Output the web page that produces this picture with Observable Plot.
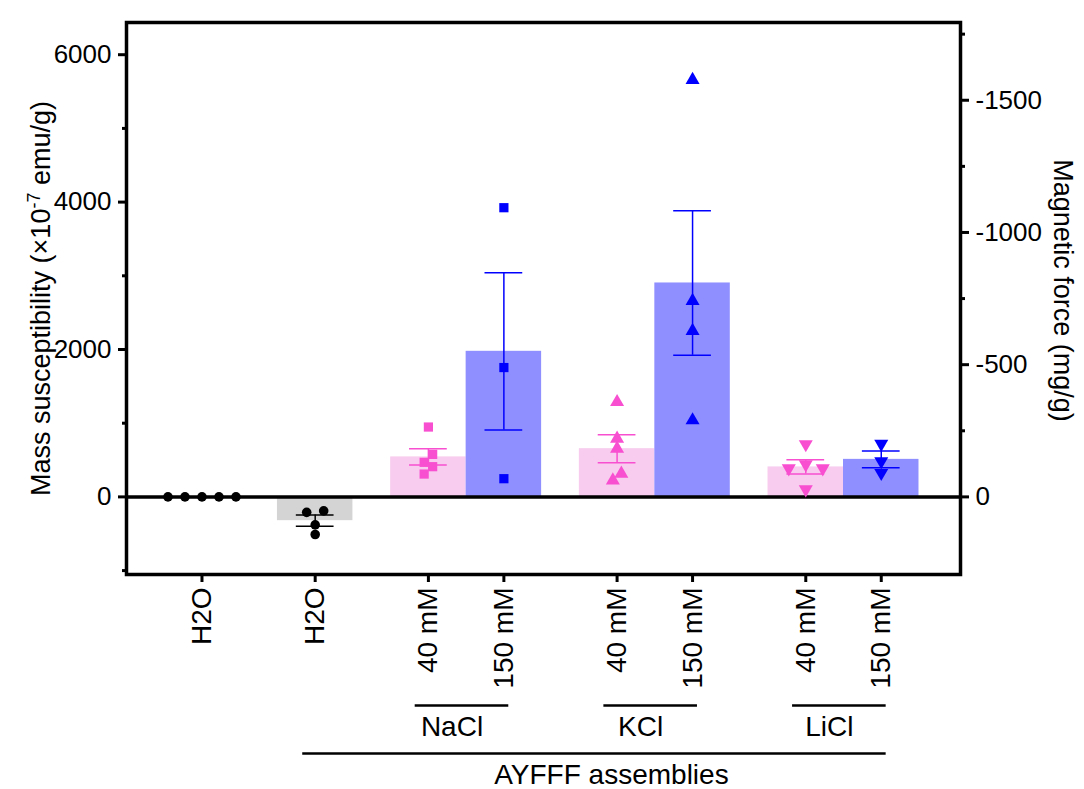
<!DOCTYPE html>
<html>
<head>
<meta charset="utf-8">
<script src="https://cdn.jsdelivr.net/npm/d3@7"></script>
<script src="https://cdn.jsdelivr.net/npm/@observablehq/plot@0.6"></script>
<style>
  body { margin: 0; background: #fff; }
  #chart svg { font-family: "Liberation Sans", Arial, sans-serif; display: block; }
  #chart svg g[aria-label="y-axis tick"], #chart svg g[aria-label="x-axis tick"] { stroke-width: 3px; }
  #chart svg g[aria-label="frame"] rect, #chart svg [aria-label="frame"] { stroke-width: 3.5px; }
</style>
</head>
<body>
<div id="chart"></div>
<script>
// ---------------- data ----------------
const categories = ["H2O", "H2O", "40 mM", "150 mM", "40 mM", "150 mM", "40 mM", "150 mM"];
const groupKeys  = ["control", "AYFFF", "NaCl", "NaCl", "KCl", "KCl", "LiCl", "LiCl"];
const saltNames  = ["NaCl", "KCl", "LiCl"];
const assemblyLabel = "AYFFF assemblies";

// mass susceptibility (x10^-7 emu/g), individual replicates
const waterControl = [0, 0, 0, 0, 0];
const waterAYFFF   = [-210, -190, -380, -510];
const nacl40       = [948, 577, 469, 410, 310];
const nacl150      = [3924, 1755, 247];
const kcl40        = [1288, 790, 655, 315, 224];
const kcl150       = [5659, 2660, 2253, 1039];
const licl40       = [714, 442, 388, 388, 102];
const licl150      = [719, 484, 325];
const seriesValues = [waterControl, waterAYFFF, nacl40, nacl150, kcl40, kcl150, licl40, licl150];

const leftTicks       = [0, 2000, 4000, 6000];
const leftMinorTicks  = [-1000, 1000, 3000, 5000];
const rightTicks      = [0, -500, -1000, -1500];
const rightMinorTicks = [-250, -750, -1250, -1750];
const susceptibilityPerForce = 3.588; // left-axis units per -1 mg/g

const leftTitle  = "Mass susceptibility (\u00d710-7 emu/g)";
const rightTitle = "Magnetic force (mg/g)";

// ---------------- layout / style ----------------
const W = 1084, H = 789;
const mL = 126, mR = 124, mT = 22, mB = 215;
const xDomain = [-2, 20.1];
const yDomain = [-1053, 6437];
const font = "Liberation Sans, Arial, sans-serif";

const colors = {
  water: {bar: "#d4d4d4", mark: "#000000"},
  low:   {bar: "#f8ccee", mark: "#f84fd0"},
  high:  {bar: "#8f8fff", mark: "#0000ff"}
};

const sqrt3 = Math.sqrt(3);
const triangleDown = {
  draw(context, size) {
    const y = -Math.sqrt(size / (sqrt3 * 3));
    context.moveTo(0, -y * 2);
    context.lineTo(-sqrt3 * y, y);
    context.lineTo(sqrt3 * y, y);
    context.closePath();
  }
};

// slot positions: each bar is 2 units wide, a 1-unit gap between groups
const uniqueGroups = [...new Set(groupKeys)];
const stats = categories.map((label, i) => {
  const g = uniqueGroups.indexOf(groupKeys[i]);
  const vals = seriesValues[i];
  const kind = i < 2 ? "water" : (label.startsWith("40") ? "low" : "high");
  const mean = d3.mean(vals);
  const sem = vals.length > 1 ? d3.deviation(vals) / Math.sqrt(vals.length) : 0;
  return {i, label, group: groupKeys[i], pos: 2 * i + g, kind, mean, sem, vals};
});

// simple beeswarm offsets (pixels) for replicate points, rows centred
const xUnitsPerPx = (xDomain[1] - xDomain[0]) / (W - mL - mR);
const yPxPerUnit = (H - mT - mB) / (yDomain[1] - yDomain[0]);
function swarm(values, step = 8.5, minDist = 9.5) {
  const order = values.map((v, i) => i).sort((a, b) => values[b] - values[a]);
  const placed = [], off = new Array(values.length);
  for (const i of order) {
    const py = values[i] * yPxPerUnit;
    for (let k = 0; k < 50; k++) {
      const c = k === 0 ? 0 : (k % 2 ? -1 : 1) * Math.ceil(k / 2) * step;
      if (placed.every(p => Math.hypot(p.x - c, p.y - py) >= minDist)) {
        off[i] = c; placed.push({x: c, y: py}); break;
      }
    }
  }
  // centre each run of vertically-touching points
  let run = [];
  const flush = () => {
    if (run.length > 1) {
      const m = d3.mean(run, i => off[i]);
      run.forEach(i => { off[i] -= m; });
    }
    run = [];
  };
  order.forEach((i, n) => {
    if (n > 0 && (values[order[n - 1]] - values[i]) * yPxPerUnit >= minDist) flush();
    run.push(i);
  });
  flush();
  return off;
}
const points = stats.flatMap(s => {
  const off = swarm(s.vals);
  return s.vals.map((v, j) => ({
    x: s.pos + off[j] * xUnitsPerPx, v, group: s.group, color: colors[s.kind].mark
  }));
});

const withErr = stats.filter(s => s.sem > 0);
const saltGroups = saltNames.map(name => {
  const ps = stats.filter(s => s.group === name).map(s => s.pos);
  return {name, x1: d3.min(ps) - 0.35, x2: d3.max(ps) + 0.13};
});
const assemblyPos = stats.filter(s => s.group !== "control").map(s => s.pos);
const assembly = [{name: assemblyLabel, x1: d3.min(assemblyPos) - 0.33, x2: d3.max(assemblyPos) + 0.13}];
const labelByPos = new Map(stats.map(s => [s.pos, s.label]));
const yBottom = yDomain[0];

const plot = Plot.plot({
  width: W, height: H,
  marginLeft: mL, marginRight: mR, marginTop: mT, marginBottom: mB,
  style: {fontFamily: font, background: "white", color: "black", overflow: "visible"},
  x: {type: "linear", domain: xDomain, axis: null},
  y: {domain: yDomain, axis: null},
  marks: [
    // bars
    Plot.rectY(stats, {x1: d => d.pos - 1, x2: d => d.pos + 1, y1: 0, y2: "mean",
      fill: d => colors[d.kind].bar}),
    // error bars
    Plot.ruleX(withErr, {x: "pos", y1: d => d.mean - d.sem, y2: d => d.mean + d.sem,
      stroke: d => colors[d.kind].mark, strokeWidth: 1.5}),
    Plot.ruleY(withErr, {y: d => d.mean + d.sem, x1: d => d.pos - 0.5, x2: d => d.pos + 0.5,
      stroke: d => colors[d.kind].mark, strokeWidth: 1.5}),
    Plot.ruleY(withErr, {y: d => d.mean - d.sem, x1: d => d.pos - 0.5, x2: d => d.pos + 0.5,
      stroke: d => colors[d.kind].mark, strokeWidth: 1.5}),
    // zero line
    Plot.ruleY([0], {stroke: "black", strokeWidth: 3.5}),
    // replicate points
    Plot.dot(points.filter(p => p.group === "control" || p.group === "AYFFF"),
      {x: "x", y: "v", fill: "color", r: 4.8, symbol: "circle"}),
    Plot.dot(points.filter(p => p.group === "NaCl"),
      {x: "x", y: "v", fill: "color", r: 5.2, symbol: "square"}),
    Plot.dot(points.filter(p => p.group === "KCl"),
      {x: "x", y: "v", fill: "color", r: 5.2, symbol: "triangle"}),
    Plot.dot(points.filter(p => p.group === "LiCl"),
      {x: "x", y: "v", fill: "color", r: 5.2, symbol: triangleDown}),
    // frame
    Plot.frame({stroke: "black", strokeWidth: 3.5}),
    // left axis
    Plot.axisY(leftTicks, {anchor: "left", tickSize: 8, tickPadding: 7, strokeWidth: 3,
      fontSize: 26, label: null, tickFormat: d => String(d)}),
    Plot.axisY(leftMinorTicks, {anchor: "left", tickSize: 4, strokeWidth: 3,
      tickFormat: () => "", label: null}),
    // right axis (magnetic force)
    Plot.axisY(rightTicks.map(m => -m * susceptibilityPerForce), {anchor: "right", tickSize: 8,
      tickPadding: 7, strokeWidth: 3, fontSize: 26, label: null,
      tickFormat: v => String(Math.round(-v / susceptibilityPerForce))}),
    Plot.axisY(rightMinorTicks.map(m => -m * susceptibilityPerForce), {anchor: "right", tickSize: 4,
      strokeWidth: 3, tickFormat: () => "", label: null}),
    // x axis
    Plot.axisX(stats.map(s => s.pos), {anchor: "bottom", tickSize: 8, tickPadding: 5, strokeWidth: 3,
      tickRotate: -90, fontSize: 28, label: null, tickFormat: p => labelByPos.get(p)}),
    // titles
    Plot.text([leftTitle], {frameAnchor: "left", dx: -85, rotate: -90, fontSize: 27,
      textAnchor: "middle", text: d => d}),
    Plot.text([rightTitle], {frameAnchor: "right", dx: 102, dy: -8, rotate: 90, fontSize: 27,
      textAnchor: "middle", text: d => d}),
    // group brackets
    Plot.ruleY(saltGroups, {x1: "x1", x2: "x2", y: yBottom, dy: 131, stroke: "black", strokeWidth: 2.5}),
    Plot.text(saltGroups, {x: d => (d.x1 + d.x2) / 2, frameAnchor: "bottom", dy: 153, dx: -10,
      text: "name", fontSize: 28, lineAnchor: "middle"}),
    Plot.ruleY(assembly, {x1: "x1", x2: "x2", y: yBottom, dy: 179, stroke: "black", strokeWidth: 2.5}),
    Plot.text(assembly, {x: d => (d.x1 + d.x2) / 2, frameAnchor: "bottom", dy: 201, dx: 17,
      text: "name", fontSize: 28, lineAnchor: "middle"})
  ]
});

// superscript exponent in the left title
plot.querySelectorAll("text").forEach(t => {
  if (t.textContent === leftTitle) {
    t.textContent = "";
    const ns = "http://www.w3.org/2000/svg";
    const a = document.createElementNS(ns, "tspan"); a.textContent = "Mass susceptibility (\u00d710";
    const b = document.createElementNS(ns, "tspan"); b.textContent = "-7";
    b.setAttribute("dy", "-10"); b.setAttribute("font-size", "18");
    const c = document.createElementNS(ns, "tspan"); c.textContent = " emu/g)";
    c.setAttribute("dy", "10");
    t.append(a, b, c);
  }
});

document.getElementById("chart").appendChild(plot);
</script>
</body>
</html>
